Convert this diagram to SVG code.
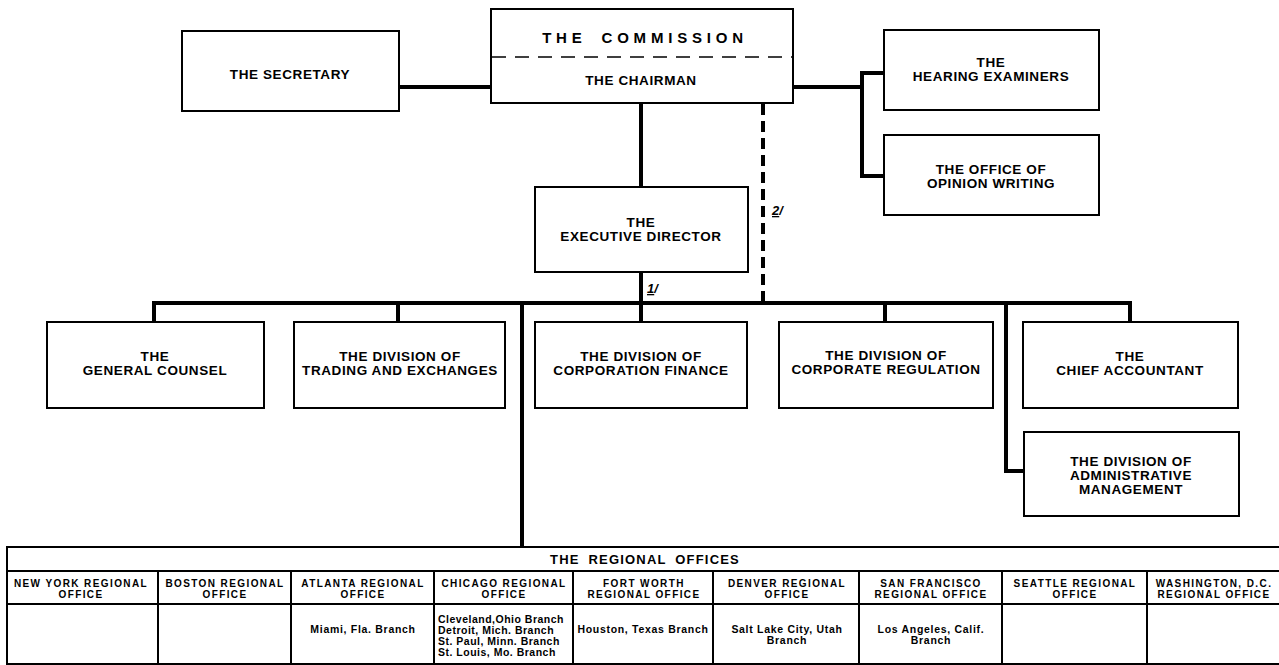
<svg xmlns="http://www.w3.org/2000/svg" width="1279" height="665" viewBox="0 0 1279 665">
<style>
.box{fill:#fff;stroke:#000;stroke-width:2}
.t{font-family:"Liberation Sans",Arial,sans-serif;font-weight:bold;font-size:13.5px;letter-spacing:0.6px;text-anchor:middle;fill:#000}
.h{font-family:"Liberation Sans",Arial,sans-serif;font-weight:bold;font-size:10px;letter-spacing:1.4px;text-anchor:middle;fill:#000}
.b{font-family:"Liberation Sans",Arial,sans-serif;font-weight:bold;font-size:10.5px;letter-spacing:0.7px;text-anchor:middle;fill:#000}
.bl{font-family:"Liberation Sans",Arial,sans-serif;font-weight:bold;font-size:10.5px;letter-spacing:0.5px;fill:#000}
.c{fill:none;stroke:#000;stroke-width:4;stroke-linejoin:miter}
.d{fill:none;stroke:#000;stroke-width:4;stroke-dasharray:11 6}
.n{font-family:"Liberation Sans",Arial,sans-serif;font-weight:bold;font-style:italic;font-size:13px;fill:#000}
.tl{fill:none;stroke:#000;stroke-width:2}
</style>
<rect width="1279" height="665" fill="#fff"/>

<g id="connectors">
  <path class="c" d="M399 87H491"/>
  <path class="c" d="M793 87H862"/>
  <path class="c" d="M884 73H862V176H884"/>
  <path class="c" d="M641 103V188"/>
  <path class="c" d="M641 272V322"/>
  <path class="c" d="M154 322V303H1130V322"/>
  <path class="c" d="M398 303V322"/>
  <path class="c" d="M885 303V322"/>
  <path class="c" d="M522 303V547"/>
  <path class="c" d="M1006 303V471H1024"/>
  <path class="d" d="M763 104V303"/>
  <text class="n" x="647" y="293"><tspan text-decoration="underline">1</tspan>/</text>
  <text class="n" x="772" y="215"><tspan text-decoration="underline">2</tspan>/</text>
</g>

<g id="secretary">
  <rect class="box" x="182" y="31" width="217" height="80"/>
  <text class="t" x="290" y="79">THE SECRETARY</text>
</g>

<g id="commission">
  <rect class="box" x="491" y="9" width="302" height="94"/>
  <line x1="492" y1="57" x2="792" y2="57" stroke="#000" stroke-width="1.5" stroke-dasharray="14 9"/>
  <text class="t" x="645" y="43" style="font-size:15px;letter-spacing:4.8px;word-spacing:6px">THE COMMISSION</text>
  <text class="t" x="641" y="85">THE CHAIRMAN</text>
</g>

<g id="hearing-examiners">
  <rect class="box" x="884" y="30" width="215" height="80"/>
  <text class="t" x="991" y="66.5">THE</text>
  <text class="t" x="991" y="80.5">HEARING EXAMINERS</text>
</g>

<g id="opinion-writing">
  <rect class="box" x="884" y="135" width="215" height="80"/>
  <text class="t" x="991" y="173.5">THE OFFICE OF</text>
  <text class="t" x="991" y="187.5">OPINION WRITING</text>
</g>

<g id="executive-director">
  <rect class="box" x="535" y="187" width="213" height="85"/>
  <text class="t" x="641" y="226.5">THE</text>
  <text class="t" x="641" y="240.5">EXECUTIVE DIRECTOR</text>
</g>

<g id="general-counsel">
  <rect class="box" x="47" y="322" width="217" height="86"/>
  <text class="t" x="155" y="360.5">THE</text>
  <text class="t" x="155" y="374.5">GENERAL COUNSEL</text>
</g>

<g id="trading-exchanges">
  <rect class="box" x="294" y="322" width="211" height="86"/>
  <text class="t" x="400" y="360.5">THE DIVISION OF</text>
  <text class="t" x="400" y="374.5">TRADING AND EXCHANGES</text>
</g>

<g id="corporation-finance">
  <rect class="box" x="535" y="322" width="212" height="86"/>
  <text class="t" x="641" y="360.5">THE DIVISION OF</text>
  <text class="t" x="641" y="374.5">CORPORATION FINANCE</text>
</g>

<g id="corporate-regulation">
  <rect class="box" x="779" y="322" width="214" height="86"/>
  <text class="t" x="886" y="359.5">THE DIVISION OF</text>
  <text class="t" x="886" y="373.5">CORPORATE REGULATION</text>
</g>

<g id="chief-accountant">
  <rect class="box" x="1023" y="322" width="215" height="86"/>
  <text class="t" x="1130" y="360.5">THE</text>
  <text class="t" x="1130" y="374.5">CHIEF ACCOUNTANT</text>
</g>

<g id="administrative-management">
  <rect class="box" x="1024" y="432" width="215" height="84"/>
  <text class="t" x="1131" y="466">THE DIVISION OF</text>
  <text class="t" x="1131" y="480">ADMINISTRATIVE</text>
  <text class="t" x="1131" y="494">MANAGEMENT</text>
</g>

<g id="regional-offices">
  <path class="tl" d="M7 547H1279M7 571H1279M7 604H1279M7 664H1279"/>
  <path class="tl" d="M7 546V665" stroke-width="3"/>
  <path class="tl" d="M158 571V665M291 571V665M434 571V665M573 571V665M713 571V665M859 571V665M1002 571V665M1147 571V665"/>
  <text class="t" x="645" y="564" style="font-size:13px;letter-spacing:1.2px;word-spacing:4px">THE REGIONAL OFFICES</text>

  <text class="h" x="81" y="586.5">NEW YORK REGIONAL</text>
  <text class="h" x="81" y="598">OFFICE</text>
  <text class="h" x="225" y="586.5">BOSTON REGIONAL</text>
  <text class="h" x="225" y="598">OFFICE</text>
  <text class="h" x="363" y="586.5">ATLANTA REGIONAL</text>
  <text class="h" x="363" y="598">OFFICE</text>
  <text class="h" x="504" y="586.5">CHICAGO REGIONAL</text>
  <text class="h" x="504" y="598">OFFICE</text>
  <text class="h" x="644" y="586.5">FORT WORTH</text>
  <text class="h" x="644" y="598">REGIONAL OFFICE</text>
  <text class="h" x="787" y="586.5">DENVER REGIONAL</text>
  <text class="h" x="787" y="598">OFFICE</text>
  <text class="h" x="931" y="586.5">SAN FRANCISCO</text>
  <text class="h" x="931" y="598">REGIONAL OFFICE</text>
  <text class="h" x="1075" y="586.5">SEATTLE REGIONAL</text>
  <text class="h" x="1075" y="598">OFFICE</text>
  <text class="h" x="1214" y="586.5">WASHINGTON, D.C.</text>
  <text class="h" x="1214" y="598">REGIONAL OFFICE</text>

  <text class="b" x="363" y="633">Miami, Fla. Branch</text>
  <text class="bl" x="438" y="623">Cleveland,Ohio Branch</text>
  <text class="bl" x="438" y="634">Detroit, Mich. Branch</text>
  <text class="bl" x="438" y="644.5">St. Paul, Minn. Branch</text>
  <text class="bl" x="438" y="655.5">St. Louis, Mo. Branch</text>
  <text class="b" x="643" y="633">Houston, Texas Branch</text>
  <text class="b" x="787" y="633">Salt Lake City, Utah</text>
  <text class="b" x="787" y="644">Branch</text>
  <text class="b" x="931" y="633">Los Angeles, Calif.</text>
  <text class="b" x="931" y="644">Branch</text>
</g>
</svg>
